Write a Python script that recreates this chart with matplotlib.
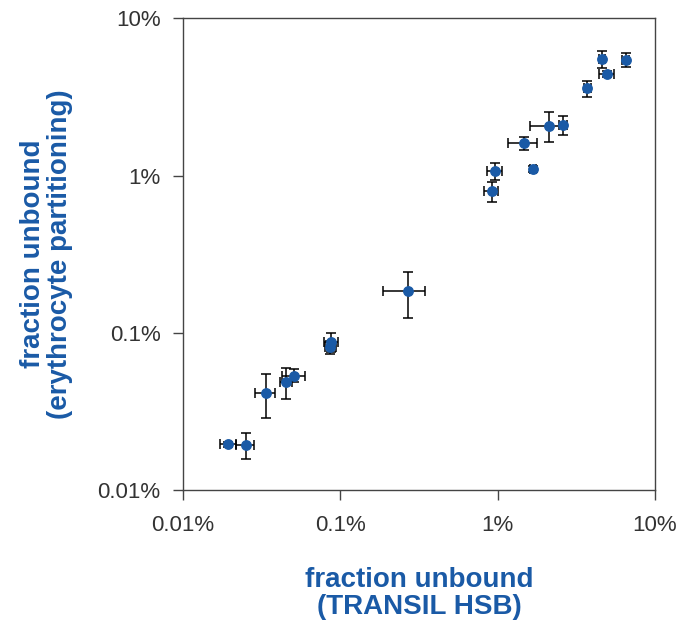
import numpy as np
import matplotlib.pyplot as plt
from matplotlib.ticker import FuncFormatter, NullLocator

# fraction unbound in percent: TRANSIL HSB (x) vs erythrocyte partitioning (y)
fu_transil = [4.59, 6.52, 4.94, 3.72, 2.12, 2.62, 1.48, 1.69, 0.96, 0.916,
              0.268, 0.0875, 0.0865, 0.0511, 0.0455, 0.0337, 0.0251, 0.0194]
fu_transil_err = [0.2, 0.3, 0.53, 0.2, 0.5, 0.15, 0.31, 0.07, 0.10, 0.09,
                  0.08, 0.009, 0.007, 0.0085, 0.004, 0.005, 0.0033, 0.0022]
fu_ery = [5.52, 5.45, 4.43, 3.60, 2.08, 2.10, 1.61, 1.10, 1.07, 0.796,
          0.184, 0.088, 0.081, 0.0535, 0.049, 0.0417, 0.0193, 0.0195]
fu_ery_err = [0.66, 0.55, 0.2, 0.43, 0.45, 0.28, 0.16, 0.05, 0.13, 0.12,
              0.06, 0.012, 0.008, 0.005, 0.011, 0.013, 0.0036, 0.0006]

ticks = [0.01, 0.1, 1, 10]

blue = '#1a5aa6'
plt.rcParams['font.family'] = ['Liberation Sans', 'DejaVu Sans']

fig = plt.figure(figsize=(6.85, 6.27), dpi=100)
ax = fig.add_axes([0.267, 0.2185, 0.689, 0.752])

ax.errorbar(fu_transil, fu_ery, xerr=fu_transil_err, yerr=fu_ery_err,
            fmt='o', color=blue, markersize=6.8, ecolor='black',
            elinewidth=1.1, capsize=3.6, capthick=1.1)

ax.set_xscale('log')
ax.set_yscale('log')
ax.set_xlim(0.01, 10)
ax.set_ylim(0.01, 10)
ax.set_xticks(ticks)
ax.set_yticks(ticks)
ax.xaxis.set_minor_locator(NullLocator())
ax.yaxis.set_minor_locator(NullLocator())
fmt = FuncFormatter(lambda v, p: '{:g}%'.format(v))
ax.xaxis.set_major_formatter(fmt)
ax.yaxis.set_major_formatter(fmt)

for s in ax.spines.values():
    s.set_color('#444444')
    s.set_linewidth(1.0)
ax.tick_params(axis='both', which='major', direction='out', length=7,
               width=1.0, color='#444444', labelsize=16, labelcolor='#333333',
               pad=9)
ax.tick_params(axis='x', pad=11)

ax.set_xlabel('fraction unbound\n(TRANSIL HSB)', fontsize=20,
              fontweight='bold', color=blue, labelpad=22, linespacing=1.05)
ax.set_ylabel('fraction unbound\n(erythrocyte partitioning)', fontsize=20,
              fontweight='bold', color=blue, labelpad=18, linespacing=1.05)

fig.savefig('out.png', dpi=100)
